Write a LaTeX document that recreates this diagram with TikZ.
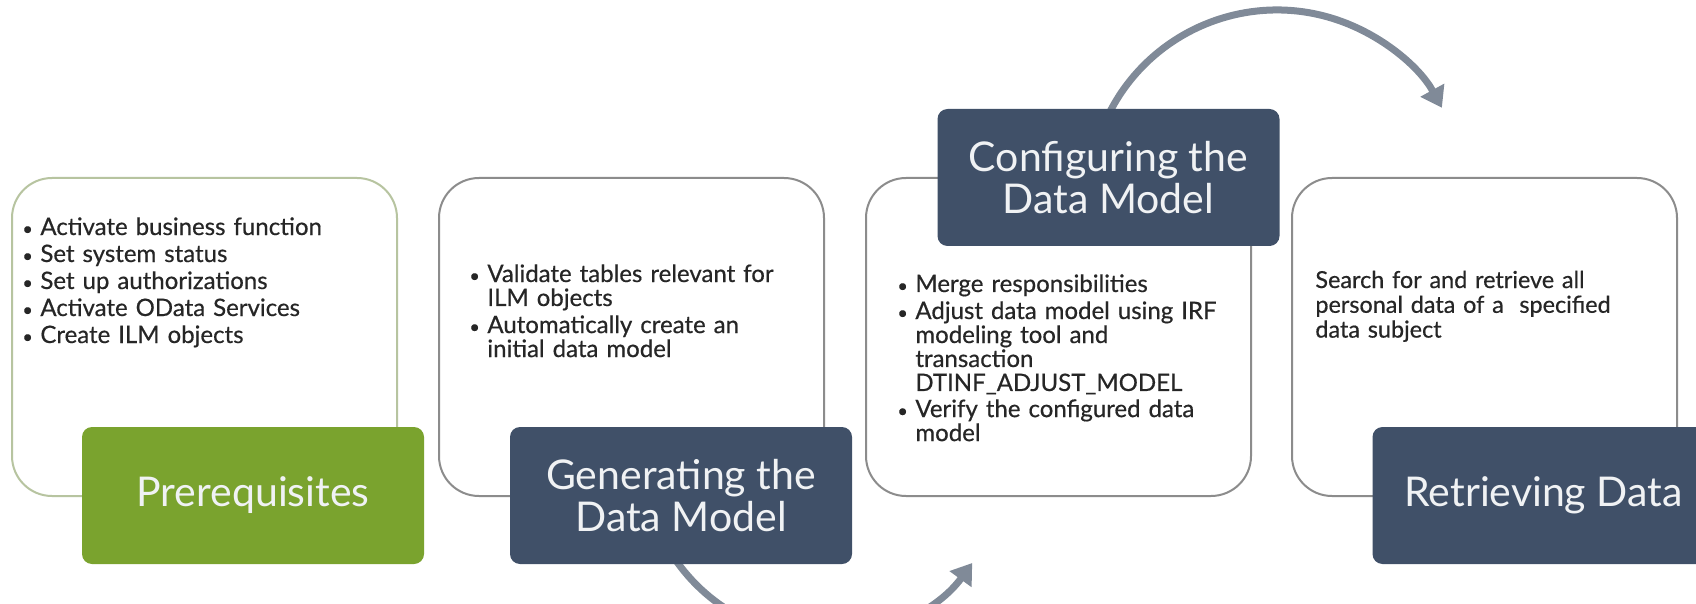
\documentclass[tikz,border=0pt]{standalone}
\usepackage{fontspec}
\setmainfont{Lato}
\newfontfamily\bodyfont{Lato}[UprightFeatures={FakeBold=0.5}]
\usetikzlibrary{arrows.meta,calc}
\definecolor{sapgreen}{RGB}{122,163,46}
\definecolor{slate}{RGB}{64,80,104}
\definecolor{boxgray}{RGB}{140,140,140}
\definecolor{boxgreen}{RGB}{183,196,160}
\definecolor{arcgray}{RGB}{128,138,152}
\definecolor{txt}{RGB}{38,38,38}
\definecolor{labtxt}{RGB}{240,242,244}
\newcommand\bfirst[1]{\noindent\makebox[9pt][l]{\scalebox{0.75}{\textbullet}}\parbox[t]{170pt}{\raggedright #1}}
\newcommand\bitem[1]{\par\bfirst{#1}}
\tikzset{
  panel/.style={draw=boxgray, line width=1pt, fill=white, rounded corners=20pt,
    minimum width=192.5pt, minimum height=159pt, inner sep=0pt},
  lab/.style={rounded corners=5pt, minimum width=171pt, minimum height=68.5pt,
    inner sep=0pt, text=labtxt, align=center,
    font=\fontsize{20.5pt}{21pt}\selectfont},
  body/.style={anchor=base west, inner sep=0pt, text width=185pt, align=left,
    text=txt, font=\bodyfont\fontsize{12pt}{12pt}\selectfont},
  flow/.style={draw=arcgray, line width=3.5pt, -{Triangle[length=10pt,width=13pt]}}
}
\begin{document}
\begin{tikzpicture}[x=0.5pt,y=-0.5pt]
\clip (0,0) rectangle (1696,604);
\fill[white] (0,0) rectangle (1696,604);
% panels
\node[panel, draw=boxgreen] (b1) at (204.5,337) {};
\node[panel] (b2) at (631.5,337) {};
\node[panel] (b3) at (1058.5,337) {};
\node[panel] (b4) at (1484.5,337) {};
% texts
\node[body, font=\bodyfont\fontsize{12pt}{13.5pt}\selectfont] (t1) at (22,235) {%
\bfirst{Activate business function}
\bitem{Set system status}
\bitem{Set up authorizations}
\bitem{Activate OData Services}
\bitem{Create ILM objects}};
\node[body] (t2) at (469,282) {\setlength{\parskip}{1.5pt}%
\bfirst{Validate tables relevant for\\ILM objects}
\bitem{Automatically create an\\initial data model}};
\node[body] (t3) at (897,292) {\setlength{\parskip}{1.5pt}%
\bfirst{Merge responsibilities}
\bitem{Adjust data model using IRF\\modeling tool and\\transaction\\DTINF\_ADJUST\_MODEL}
\bitem{Verify the configured data\\model}};
\node[body, font=\bodyfont\fontsize{11.7pt}{12.4pt}\selectfont] (t4) at (1315,288) {Search for and retrieve all\\personal data of a\ \ specified\\data subject};
% cycle arrows
\coordinate (ctop) at (1277,198);
\coordinate (cbot) at (825,456);
\draw[flow] ($(ctop)+(-160:188)$) arc[start angle=160, end angle=28.7, radius=94pt];
\draw[flow] ($(cbot)+(150:182)$) arc[start angle=-150, end angle=-36, radius=91pt];
% labels
\node[lab, fill=sapgreen] (l1) at (253,495.5) {Prerequisites};
\node[lab, fill=slate] (l2) at (681,495.5) {Generating the\\Data Model};
\node[lab, fill=slate] (l3) at (1108.5,177.5) {Configuring the\\Data Model};
\node[lab, fill=slate] (l4) at (1543.5,495.5) {Retrieving Data};
\end{tikzpicture}
\end{document}
